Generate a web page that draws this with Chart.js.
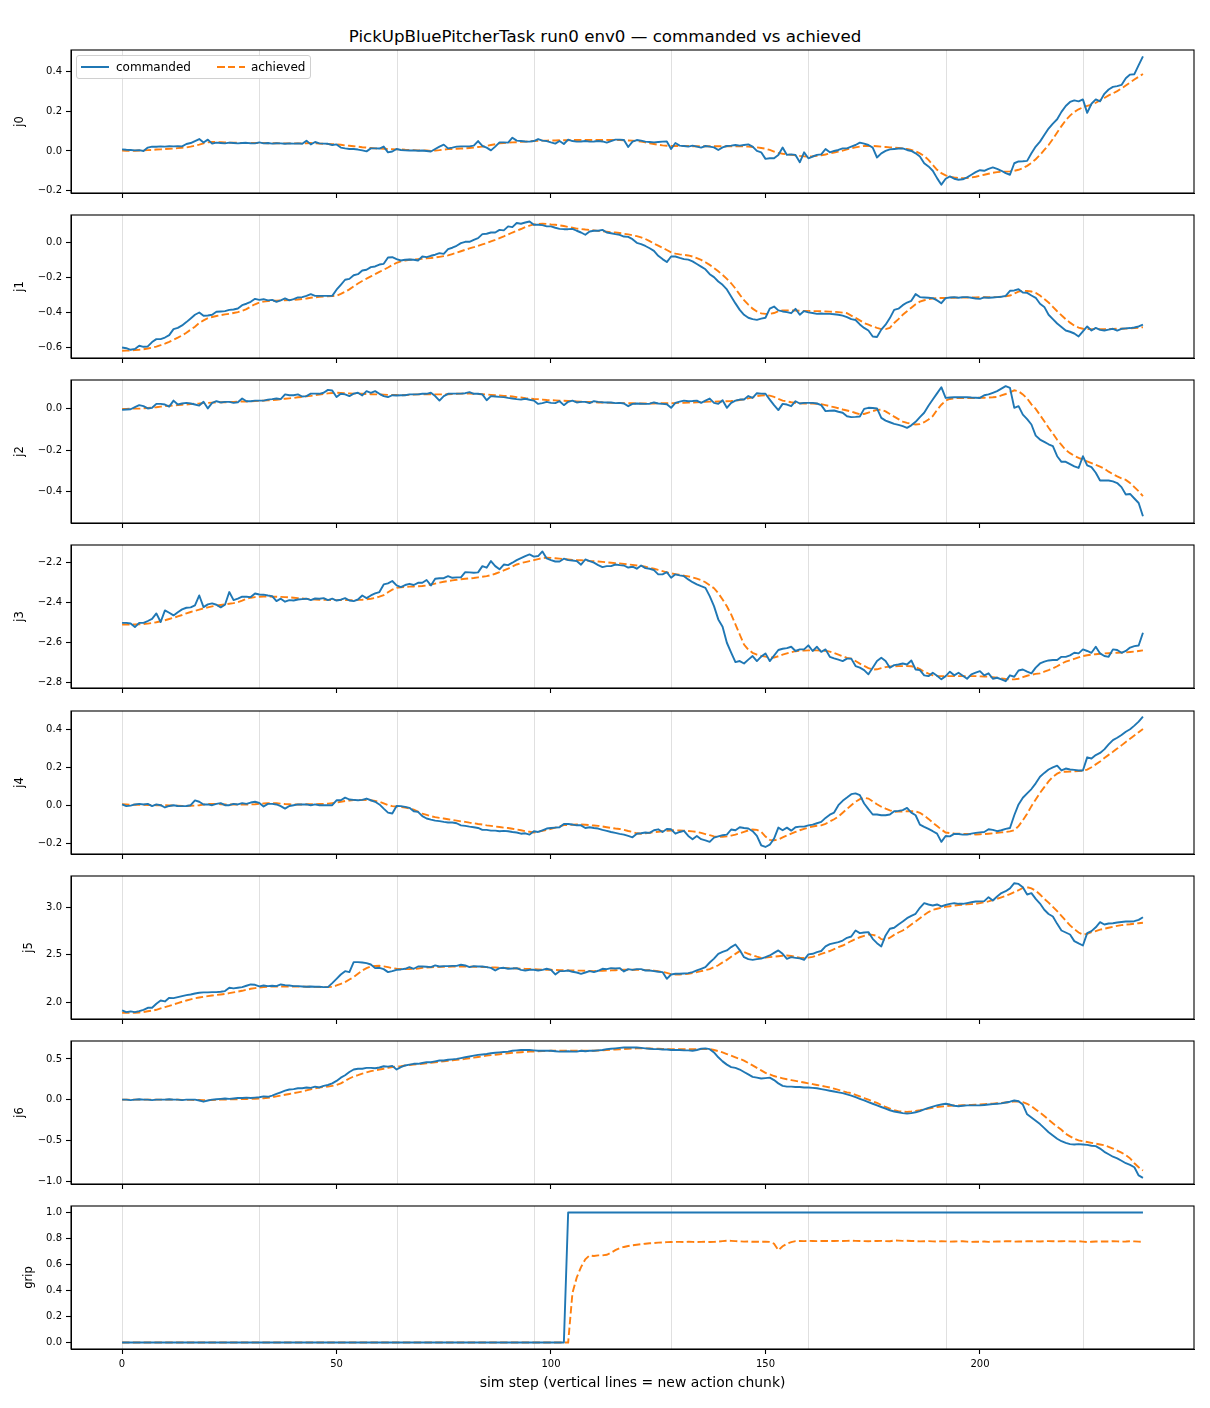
<!DOCTYPE html>
<html>
<head>
<meta charset="utf-8">
<script src="https://cdn.jsdelivr.net/npm/chart.js@4/dist/chart.umd.min.js"></script>
<style>
  html, body { margin:0; padding:0; background:#fff; }
  body { position:relative; width:1210px; height:1408px; overflow:hidden; font-family:'DejaVu Sans', sans-serif; }
  #title { position:absolute; left:0; top:27px; width:1210px; text-align:center; font-size:16.67px; line-height:20px; color:#000; }
  #legend { position:absolute; left:76px; top:55px; width:233px; height:22px; border:1px solid #d0d0d0; border-radius:3px; background:rgba(255,255,255,0.85); z-index:5; }
  .lg-line { position:absolute; top:10px; width:28px; height:2px; }
  .lg-text { position:absolute; top:4px; font-size:12px; line-height:15px; color:#000; white-space:nowrap; }
  #warn { position:absolute; left:10px; top:5px; color:red; font-size:12px; z-index:9; }
</style>
</head>
<body>
<div id="title">PickUpBluePitcherTask run0 env0 — commanded vs achieved</div>
<div id="legend">
  <div class="lg-line" style="left:4px; background:#1f77b4;"></div>
  <div class="lg-text" style="left:39px;">commanded</div>
  <div class="lg-line" style="left:140px; background:repeating-linear-gradient(to right,#ff7f0e 0 7.5px,transparent 7.5px 10.8px);"></div>
  <div class="lg-text" style="left:174px;">achieved</div>
</div>
<div id="warn"></div>
<script>
// ---------------- data (sim steps 0..238) ----------------
const chunkStarts = [0, 32, 64, 96, 128, 160, 192, 224];
const xTicks = [0, 50, 100, 150, 200];
const xTickLabels = ['0', '50', '100', '150', '200'];

const j0Cmd = [
0.008,0.006,0.005,0.003,0.004,0.0,0.017,0.022,0.021,0.023,
0.022,0.024,0.023,0.024,0.023,0.035,0.04,0.05,0.06,0.043,
0.057,0.037,0.042,0.04,0.038,0.042,0.04,0.038,0.04,0.041,
0.039,0.038,0.043,0.038,0.04,0.037,0.039,0.038,0.036,0.038,
0.037,0.038,0.036,0.052,0.033,0.045,0.038,0.037,0.036,0.03,
0.033,0.017,0.013,0.01,0.01,0.007,0.003,-0.002,0.013,0.013,
0.012,0.022,-0.007,-0.003,0.01,0.005,0.003,0.002,0.003,0.001,
0.002,0.0,-0.003,0.01,0.022,0.032,0.013,0.017,0.022,0.023,
0.023,0.023,0.027,0.05,0.025,0.017,0.003,0.022,0.043,0.043,
0.042,0.067,0.052,0.05,0.048,0.047,0.05,0.06,0.052,0.05,
0.043,0.037,0.05,0.035,0.057,0.05,0.047,0.048,0.05,0.047,
0.048,0.05,0.048,0.042,0.05,0.057,0.057,0.055,0.02,0.047,
0.055,0.052,0.047,0.045,0.043,0.045,0.047,0.048,0.01,0.04,
0.027,0.025,0.022,0.027,0.022,0.017,0.025,0.022,0.018,0.005,
0.018,0.025,0.027,0.03,0.027,0.03,0.033,0.022,0.0,-0.007,
-0.04,-0.037,-0.037,-0.02,0.017,-0.02,-0.017,-0.02,-0.057,-0.007,
-0.037,-0.028,-0.02,-0.017,0.01,-0.007,0.0,0.005,0.013,0.013,
0.022,0.03,0.042,0.037,0.03,0.017,-0.033,-0.012,0.0,0.008,
0.01,0.012,0.013,0.005,0.0,-0.012,-0.028,-0.062,-0.078,-0.1,
-0.137,-0.17,-0.14,-0.128,-0.14,-0.145,-0.143,-0.133,-0.12,-0.107,
-0.097,-0.1,-0.09,-0.083,-0.09,-0.1,-0.112,-0.12,-0.062,-0.053,
-0.052,-0.05,-0.012,0.022,0.047,0.08,0.113,0.138,0.16,0.197,
0.227,0.247,0.255,0.25,0.26,0.192,0.238,0.26,0.25,0.288,
0.31,0.323,0.327,0.333,0.367,0.385,0.387,0.433,0.477];
const j0Ach = [
0.002,0.001,0.0,0.001,0.002,0.003,0.004,0.005,0.007,0.008,
0.01,0.011,0.012,0.014,0.016,0.018,0.022,0.027,0.032,0.038,
0.043,0.045,0.045,0.044,0.043,0.042,0.041,0.041,0.04,0.04,
0.04,0.04,0.04,0.04,0.039,0.039,0.039,0.038,0.038,0.038,
0.038,0.038,0.038,0.039,0.04,0.039,0.037,0.036,0.035,0.034,
0.033,0.031,0.028,0.026,0.024,0.022,0.019,0.017,0.015,0.013,
0.012,0.011,0.01,0.009,0.008,0.008,0.006,0.005,0.004,0.003,
0.003,0.002,0.0,0.002,0.004,0.007,0.009,0.01,0.011,0.012,
0.013,0.015,0.017,0.02,0.022,0.026,0.03,0.034,0.038,0.04,
0.042,0.043,0.044,0.046,0.047,0.048,0.05,0.051,0.052,0.052,
0.053,0.053,0.054,0.054,0.054,0.055,0.055,0.055,0.055,0.055,
0.055,0.055,0.055,0.055,0.055,0.055,0.055,0.054,0.053,0.052,
0.05,0.047,0.043,0.039,0.035,0.031,0.028,0.026,0.025,0.025,
0.025,0.025,0.025,0.024,0.024,0.024,0.024,0.024,0.024,0.024,
0.024,0.024,0.024,0.024,0.024,0.023,0.022,0.02,0.018,0.015,
0.012,0.005,-0.003,-0.01,-0.014,-0.017,-0.02,-0.022,-0.025,-0.027,
-0.028,-0.027,-0.025,-0.022,-0.018,-0.013,-0.008,-0.003,0.002,0.008,
0.013,0.018,0.022,0.025,0.025,0.025,0.024,0.022,0.02,0.018,
0.017,0.015,0.013,0.01,0.005,-0.002,-0.012,-0.025,-0.045,-0.07,
-0.095,-0.112,-0.123,-0.13,-0.134,-0.136,-0.137,-0.137,-0.134,-0.13,
-0.125,-0.12,-0.115,-0.11,-0.107,-0.105,-0.104,-0.103,-0.1,-0.095,
-0.087,-0.075,-0.06,-0.042,-0.02,0.005,0.03,0.06,0.093,0.125,
0.155,0.178,0.197,0.21,0.22,0.227,0.233,0.243,0.255,0.267,
0.28,0.29,0.302,0.315,0.33,0.345,0.36,0.374,0.388];

const j1Cmd = [
-0.602,-0.606,-0.615,-0.61,-0.592,-0.598,-0.596,-0.571,-0.554,-0.554,
-0.545,-0.531,-0.497,-0.49,-0.476,-0.457,-0.436,-0.415,-0.402,-0.421,
-0.419,-0.415,-0.398,-0.396,-0.394,-0.387,-0.385,-0.379,-0.36,-0.352,
-0.341,-0.324,-0.33,-0.326,-0.333,-0.33,-0.341,-0.333,-0.322,-0.333,
-0.326,-0.316,-0.314,-0.307,-0.297,-0.307,-0.307,-0.307,-0.307,-0.307,
-0.272,-0.244,-0.215,-0.21,-0.189,-0.183,-0.162,-0.158,-0.143,-0.139,
-0.128,-0.124,-0.088,-0.086,-0.097,-0.105,-0.101,-0.099,-0.101,-0.105,
-0.082,-0.086,-0.078,-0.072,-0.063,-0.067,-0.04,-0.032,-0.021,-0.006,
0.002,0.002,0.013,0.023,0.046,0.048,0.055,0.055,0.07,0.067,
0.09,0.086,0.109,0.105,0.112,0.118,0.099,0.099,0.097,0.09,
0.09,0.082,0.076,0.074,0.074,0.076,0.065,0.055,0.042,0.061,
0.065,0.065,0.07,0.055,0.051,0.046,0.042,0.032,0.03,0.017,
-0.004,-0.011,-0.022,-0.035,-0.05,-0.078,-0.097,-0.114,-0.082,-0.082,
-0.09,-0.097,-0.1,-0.11,-0.125,-0.14,-0.155,-0.183,-0.2,-0.225,
-0.244,-0.27,-0.31,-0.35,-0.387,-0.415,-0.432,-0.44,-0.444,-0.437,
-0.432,-0.38,-0.368,-0.39,-0.396,-0.4,-0.406,-0.381,-0.415,-0.394,
-0.401,-0.405,-0.41,-0.408,-0.41,-0.41,-0.412,-0.415,-0.42,-0.428,
-0.44,-0.445,-0.47,-0.49,-0.505,-0.539,-0.542,-0.5,-0.472,-0.434,
-0.387,-0.38,-0.36,-0.345,-0.335,-0.297,-0.314,-0.316,-0.318,-0.32,
-0.333,-0.349,-0.32,-0.316,-0.314,-0.318,-0.314,-0.314,-0.318,-0.322,
-0.324,-0.316,-0.318,-0.316,-0.314,-0.312,-0.307,-0.278,-0.276,-0.269,
-0.288,-0.29,-0.305,-0.318,-0.352,-0.37,-0.415,-0.44,-0.465,-0.485,
-0.505,-0.512,-0.522,-0.539,-0.51,-0.482,-0.505,-0.49,-0.501,-0.505,
-0.5,-0.495,-0.505,-0.495,-0.493,-0.491,-0.488,-0.482,-0.472];
const j1Ach = [
-0.621,-0.62,-0.619,-0.617,-0.615,-0.612,-0.608,-0.603,-0.597,-0.589,
-0.58,-0.57,-0.558,-0.546,-0.533,-0.518,-0.5,-0.483,-0.462,-0.447,
-0.434,-0.428,-0.422,-0.417,-0.413,-0.41,-0.405,-0.4,-0.392,-0.383,
-0.368,-0.355,-0.345,-0.34,-0.337,-0.335,-0.334,-0.333,-0.332,-0.331,
-0.33,-0.328,-0.325,-0.322,-0.318,-0.315,-0.313,-0.311,-0.309,-0.308,
-0.307,-0.296,-0.284,-0.27,-0.253,-0.236,-0.222,-0.209,-0.196,-0.183,
-0.17,-0.158,-0.145,-0.131,-0.118,-0.11,-0.105,-0.101,-0.099,-0.097,
-0.095,-0.093,-0.091,-0.088,-0.084,-0.08,-0.076,-0.068,-0.06,-0.052,
-0.044,-0.036,-0.029,-0.021,-0.013,-0.006,0.004,0.013,0.023,0.033,
0.044,0.055,0.065,0.075,0.086,0.094,0.101,0.104,0.105,0.104,
0.101,0.099,0.096,0.092,0.087,0.082,0.077,0.075,0.072,0.07,
0.067,0.064,0.062,0.06,0.057,0.055,0.052,0.048,0.044,0.039,
0.034,0.027,0.018,0.006,-0.008,-0.02,-0.033,-0.045,-0.058,-0.066,
-0.07,-0.073,-0.076,-0.082,-0.092,-0.102,-0.115,-0.13,-0.148,-0.167,
-0.187,-0.21,-0.235,-0.265,-0.3,-0.332,-0.357,-0.38,-0.396,-0.407,
-0.41,-0.41,-0.405,-0.395,-0.39,-0.39,-0.39,-0.391,-0.392,-0.393,
-0.393,-0.394,-0.394,-0.395,-0.396,-0.397,-0.398,-0.4,-0.403,-0.406,
-0.42,-0.432,-0.447,-0.462,-0.472,-0.482,-0.49,-0.497,-0.497,-0.49,
-0.462,-0.44,-0.415,-0.395,-0.375,-0.355,-0.34,-0.332,-0.326,-0.322,
-0.32,-0.319,-0.319,-0.318,-0.318,-0.317,-0.317,-0.316,-0.316,-0.316,
-0.315,-0.315,-0.315,-0.314,-0.314,-0.312,-0.309,-0.305,-0.294,-0.283,
-0.278,-0.279,-0.282,-0.29,-0.305,-0.325,-0.345,-0.37,-0.395,-0.418,
-0.44,-0.46,-0.477,-0.488,-0.495,-0.497,-0.497,-0.497,-0.497,-0.497,
-0.496,-0.496,-0.495,-0.495,-0.494,-0.493,-0.491,-0.489,-0.486];

const j2Cmd = [
-0.005,-0.003,-0.002,0.008,0.018,0.013,0.002,0.005,0.024,0.024,
0.021,0.011,0.04,0.021,0.026,0.029,0.026,0.021,0.016,0.034,
0.002,0.029,0.037,0.031,0.034,0.034,0.029,0.032,0.05,0.037,
0.037,0.04,0.04,0.04,0.045,0.047,0.05,0.047,0.07,0.066,
0.066,0.07,0.06,0.062,0.074,0.074,0.073,0.078,0.092,0.089,
0.057,0.073,0.07,0.062,0.074,0.078,0.065,0.086,0.078,0.086,
0.073,0.062,0.057,0.066,0.065,0.066,0.066,0.07,0.07,0.07,
0.073,0.073,0.078,0.062,0.04,0.062,0.073,0.074,0.074,0.074,
0.076,0.081,0.073,0.073,0.07,0.042,0.062,0.06,0.058,0.057,
0.053,0.05,0.047,0.045,0.049,0.044,0.04,0.024,0.028,0.034,
0.029,0.028,0.037,0.018,0.034,0.04,0.031,0.034,0.034,0.028,
0.037,0.034,0.032,0.031,0.031,0.028,0.029,0.026,0.013,0.024,
0.026,0.025,0.024,0.025,0.031,0.026,0.024,0.022,0.005,0.029,
0.035,0.04,0.037,0.038,0.04,0.029,0.04,0.05,0.029,0.024,
0.042,0.005,0.029,0.04,0.045,0.045,0.062,0.053,0.076,0.074,
0.073,0.045,0.018,-0.006,0.024,0.021,0.013,0.037,0.026,0.029,
0.029,0.029,0.026,0.018,-0.011,-0.009,-0.008,-0.014,-0.019,-0.036,
-0.04,-0.039,-0.037,0.0,0.005,0.004,0.002,-0.044,-0.057,-0.065,
-0.073,-0.078,-0.084,-0.092,-0.08,-0.063,-0.04,-0.019,0.015,0.045,
0.075,0.105,0.053,0.055,0.056,0.056,0.056,0.057,0.055,0.054,
0.053,0.066,0.07,0.078,0.086,0.098,0.11,0.102,0.005,0.013,
-0.028,-0.05,-0.076,-0.13,-0.149,-0.16,-0.172,-0.181,-0.23,-0.257,
-0.257,-0.268,-0.279,-0.287,-0.23,-0.274,-0.283,-0.31,-0.348,-0.348,
-0.348,-0.352,-0.36,-0.38,-0.416,-0.413,-0.435,-0.457,-0.521];
const j2Ach = [
0.0,0.0,0.001,0.001,0.001,0.002,0.004,0.006,0.008,0.011,
0.013,0.015,0.016,0.018,0.02,0.021,0.023,0.025,0.026,0.028,
0.029,0.03,0.031,0.032,0.032,0.033,0.034,0.035,0.036,0.036,
0.037,0.038,0.039,0.04,0.041,0.042,0.044,0.047,0.049,0.051,
0.053,0.056,0.058,0.061,0.063,0.066,0.069,0.072,0.075,0.077,
0.078,0.077,0.076,0.075,0.074,0.074,0.073,0.072,0.071,0.07,
0.07,0.069,0.068,0.067,0.067,0.066,0.067,0.068,0.069,0.07,
0.07,0.07,0.07,0.07,0.07,0.07,0.071,0.072,0.073,0.074,
0.074,0.074,0.073,0.072,0.071,0.07,0.068,0.066,0.065,0.063,
0.062,0.06,0.057,0.055,0.052,0.05,0.048,0.047,0.045,0.043,
0.042,0.041,0.04,0.039,0.038,0.037,0.036,0.035,0.034,0.033,
0.032,0.031,0.031,0.03,0.029,0.029,0.028,0.028,0.027,0.027,
0.026,0.026,0.026,0.026,0.026,0.027,0.027,0.027,0.028,0.028,
0.029,0.029,0.03,0.031,0.032,0.033,0.034,0.035,0.035,0.036,
0.036,0.037,0.038,0.04,0.043,0.046,0.051,0.056,0.062,0.065,
0.066,0.064,0.058,0.048,0.04,0.036,0.032,0.029,0.027,0.026,
0.026,0.026,0.025,0.023,0.018,0.013,0.008,0.003,-0.003,-0.008,
-0.013,-0.02,-0.026,-0.025,-0.018,-0.011,-0.005,-0.004,-0.012,-0.025,
-0.038,-0.05,-0.062,-0.068,-0.073,-0.076,-0.074,-0.065,-0.052,-0.035,
-0.005,0.02,0.04,0.048,0.051,0.053,0.053,0.053,0.053,0.053,
0.054,0.054,0.055,0.056,0.058,0.065,0.072,0.08,0.09,0.085,
0.07,0.05,0.022,0.0,-0.03,-0.06,-0.092,-0.12,-0.15,-0.175,
-0.2,-0.215,-0.228,-0.238,-0.246,-0.255,-0.263,-0.272,-0.28,-0.29,
-0.305,-0.317,-0.328,-0.337,-0.345,-0.36,-0.38,-0.4,-0.424];

const j3Cmd = [
-2.502,-2.502,-2.505,-2.523,-2.502,-2.502,-2.493,-2.482,-2.455,-2.498,
-2.44,-2.452,-2.465,-2.449,-2.435,-2.427,-2.425,-2.415,-2.366,-2.424,
-2.41,-2.405,-2.412,-2.425,-2.412,-2.349,-2.389,-2.382,-2.372,-2.372,
-2.374,-2.356,-2.361,-2.362,-2.366,-2.369,-2.394,-2.382,-2.397,-2.389,
-2.391,-2.386,-2.384,-2.382,-2.389,-2.381,-2.382,-2.379,-2.389,-2.382,
-2.391,-2.387,-2.379,-2.391,-2.394,-2.386,-2.366,-2.379,-2.366,-2.356,
-2.349,-2.311,-2.306,-2.294,-2.316,-2.324,-2.314,-2.308,-2.314,-2.303,
-2.303,-2.289,-2.316,-2.283,-2.28,-2.28,-2.27,-2.278,-2.276,-2.276,
-2.25,-2.251,-2.253,-2.251,-2.22,-2.228,-2.195,-2.22,-2.236,-2.212,
-2.215,-2.203,-2.19,-2.18,-2.17,-2.162,-2.173,-2.17,-2.147,-2.182,
-2.19,-2.197,-2.197,-2.183,-2.19,-2.192,-2.195,-2.213,-2.187,-2.195,
-2.203,-2.215,-2.225,-2.22,-2.22,-2.212,-2.215,-2.217,-2.227,-2.223,
-2.233,-2.217,-2.23,-2.233,-2.24,-2.261,-2.261,-2.25,-2.278,-2.261,
-2.266,-2.27,-2.286,-2.3,-2.311,-2.32,-2.328,-2.369,-2.419,-2.485,
-2.521,-2.601,-2.65,-2.697,-2.692,-2.704,-2.685,-2.667,-2.692,-2.67,
-2.654,-2.692,-2.665,-2.637,-2.631,-2.628,-2.621,-2.642,-2.634,-2.634,
-2.614,-2.642,-2.621,-2.646,-2.634,-2.671,-2.679,-2.685,-2.692,-2.68,
-2.68,-2.717,-2.725,-2.737,-2.758,-2.725,-2.692,-2.676,-2.692,-2.725,
-2.712,-2.709,-2.704,-2.709,-2.689,-2.734,-2.737,-2.763,-2.767,-2.75,
-2.765,-2.783,-2.767,-2.745,-2.763,-2.75,-2.765,-2.78,-2.758,-2.75,
-2.742,-2.763,-2.753,-2.78,-2.775,-2.783,-2.792,-2.763,-2.77,-2.739,
-2.734,-2.745,-2.753,-2.725,-2.704,-2.695,-2.689,-2.687,-2.687,-2.671,
-2.671,-2.664,-2.651,-2.654,-2.634,-2.642,-2.651,-2.621,-2.654,-2.667,
-2.671,-2.634,-2.637,-2.651,-2.642,-2.625,-2.618,-2.615,-2.551];
const j3Ach = [
-2.51,-2.51,-2.51,-2.51,-2.509,-2.508,-2.506,-2.503,-2.499,-2.494,
-2.489,-2.483,-2.477,-2.47,-2.463,-2.455,-2.448,-2.442,-2.436,-2.43,
-2.425,-2.42,-2.416,-2.413,-2.41,-2.407,-2.404,-2.399,-2.392,-2.383,
-2.377,-2.374,-2.372,-2.371,-2.371,-2.372,-2.372,-2.373,-2.374,-2.375,
-2.377,-2.379,-2.381,-2.383,-2.385,-2.386,-2.387,-2.388,-2.388,-2.389,
-2.389,-2.389,-2.389,-2.389,-2.389,-2.388,-2.387,-2.385,-2.382,-2.378,
-2.372,-2.364,-2.35,-2.337,-2.328,-2.325,-2.323,-2.322,-2.321,-2.32,
-2.319,-2.316,-2.312,-2.307,-2.302,-2.298,-2.294,-2.291,-2.288,-2.285,
-2.283,-2.281,-2.279,-2.276,-2.273,-2.27,-2.265,-2.258,-2.25,-2.241,
-2.233,-2.222,-2.212,-2.205,-2.2,-2.195,-2.19,-2.185,-2.18,-2.178,
-2.179,-2.181,-2.183,-2.185,-2.187,-2.189,-2.19,-2.191,-2.192,-2.194,
-2.195,-2.197,-2.199,-2.201,-2.203,-2.205,-2.207,-2.209,-2.212,-2.214,
-2.217,-2.219,-2.223,-2.228,-2.233,-2.239,-2.245,-2.251,-2.256,-2.26,
-2.263,-2.267,-2.271,-2.276,-2.282,-2.29,-2.3,-2.315,-2.33,-2.355,
-2.386,-2.42,-2.46,-2.51,-2.56,-2.61,-2.635,-2.651,-2.66,-2.666,
-2.67,-2.674,-2.675,-2.668,-2.66,-2.654,-2.648,-2.643,-2.641,-2.64,
-2.639,-2.639,-2.639,-2.64,-2.641,-2.645,-2.652,-2.66,-2.668,-2.676,
-2.68,-2.692,-2.705,-2.716,-2.727,-2.734,-2.733,-2.727,-2.722,-2.719,
-2.718,-2.717,-2.717,-2.717,-2.718,-2.722,-2.732,-2.745,-2.755,-2.763,
-2.767,-2.767,-2.767,-2.767,-2.767,-2.767,-2.767,-2.767,-2.767,-2.767,
-2.768,-2.769,-2.77,-2.772,-2.775,-2.778,-2.781,-2.783,-2.783,-2.78,
-2.772,-2.765,-2.76,-2.756,-2.753,-2.745,-2.737,-2.728,-2.718,-2.705,
-2.695,-2.688,-2.681,-2.674,-2.667,-2.663,-2.66,-2.658,-2.656,-2.654,
-2.653,-2.652,-2.651,-2.65,-2.649,-2.647,-2.645,-2.642,-2.639];

const j4Cmd = [
0.004,-0.005,-0.002,0.004,0.007,0.004,0.007,-0.005,0.004,0.0,
-0.012,-0.004,0.0,-0.004,-0.005,-0.004,0.0,0.025,0.018,0.004,
0.004,0.0,0.007,0.011,0.0,0.0,0.007,0.004,0.011,0.007,
0.014,0.018,0.012,-0.007,0.007,0.007,0.004,-0.005,-0.018,-0.004,
0.0,0.004,0.004,0.004,0.0,0.004,0.0,0.0,0.0,0.0,
0.026,0.026,0.04,0.03,0.028,0.026,0.028,0.035,0.026,0.018,
0.004,-0.018,-0.039,-0.044,-0.004,-0.005,-0.009,-0.014,-0.032,-0.035,
-0.058,-0.07,-0.076,-0.081,-0.084,-0.088,-0.091,-0.091,-0.095,-0.106,
-0.109,-0.113,-0.116,-0.12,-0.13,-0.13,-0.134,-0.134,-0.137,-0.135,
-0.137,-0.141,-0.144,-0.15,-0.148,-0.155,-0.137,-0.141,-0.132,-0.123,
-0.12,-0.118,-0.116,-0.099,-0.099,-0.102,-0.106,-0.106,-0.12,-0.116,
-0.12,-0.123,-0.13,-0.135,-0.141,-0.146,-0.151,-0.155,-0.162,-0.169,
-0.15,-0.148,-0.144,-0.146,-0.132,-0.127,-0.141,-0.125,-0.127,-0.15,
-0.141,-0.135,-0.162,-0.179,-0.162,-0.179,-0.185,-0.193,-0.171,-0.164,
-0.158,-0.155,-0.128,-0.132,-0.116,-0.12,-0.123,-0.137,-0.162,-0.211,
-0.22,-0.208,-0.176,-0.118,-0.132,-0.118,-0.134,-0.116,-0.113,-0.113,
-0.106,-0.102,-0.095,-0.088,-0.067,-0.05,-0.039,0.0,0.023,0.04,
0.058,0.062,0.053,0.009,-0.021,-0.049,-0.049,-0.053,-0.053,-0.049,
-0.032,-0.03,-0.026,-0.014,-0.039,-0.053,-0.102,-0.114,-0.125,-0.137,
-0.15,-0.193,-0.162,-0.164,-0.151,-0.152,-0.155,-0.155,-0.15,-0.146,
-0.143,-0.141,-0.127,-0.13,-0.137,-0.132,-0.125,-0.12,-0.053,0.004,
0.039,0.062,0.085,0.115,0.15,0.17,0.188,0.199,0.208,0.183,
0.193,0.188,0.186,0.183,0.183,0.252,0.246,0.264,0.275,0.294,
0.32,0.343,0.355,0.37,0.387,0.4,0.419,0.44,0.466];
const j4Ach = [
0.005,0.004,0.003,0.002,0.002,0.002,0.001,0.001,0.0,0.0,
0.0,-0.001,-0.002,-0.003,-0.004,-0.004,-0.003,-0.002,0.0,0.003,
0.006,0.007,0.006,0.005,0.004,0.004,0.004,0.004,0.004,0.004,
0.004,0.005,0.007,0.009,0.01,0.011,0.01,0.008,0.006,0.005,
0.004,0.004,0.004,0.005,0.005,0.005,0.006,0.007,0.008,0.011,
0.014,0.018,0.022,0.025,0.027,0.028,0.028,0.027,0.026,0.022,
0.018,0.01,0.0,-0.005,-0.007,-0.009,-0.012,-0.017,-0.024,-0.034,
-0.044,-0.051,-0.058,-0.063,-0.067,-0.07,-0.074,-0.078,-0.081,-0.085,
-0.088,-0.092,-0.095,-0.099,-0.102,-0.106,-0.109,-0.112,-0.115,-0.118,
-0.12,-0.124,-0.128,-0.132,-0.137,-0.14,-0.144,-0.14,-0.135,-0.13,
-0.125,-0.118,-0.111,-0.105,-0.104,-0.103,-0.102,-0.102,-0.103,-0.105,
-0.107,-0.109,-0.112,-0.116,-0.12,-0.123,-0.125,-0.13,-0.136,-0.141,
-0.148,-0.15,-0.148,-0.145,-0.142,-0.14,-0.137,-0.135,-0.133,-0.132,
-0.133,-0.134,-0.136,-0.138,-0.141,-0.146,-0.152,-0.158,-0.164,-0.167,
-0.166,-0.164,-0.16,-0.155,-0.148,-0.14,-0.133,-0.128,-0.13,-0.14,
-0.165,-0.183,-0.185,-0.18,-0.17,-0.16,-0.15,-0.141,-0.132,-0.125,
-0.118,-0.112,-0.108,-0.106,-0.098,-0.086,-0.074,-0.06,-0.04,-0.02,
0.0,0.018,0.032,0.039,0.035,0.02,0.005,-0.008,-0.018,-0.027,
-0.035,-0.034,-0.033,-0.032,-0.032,-0.032,-0.04,-0.055,-0.072,-0.092,
-0.11,-0.128,-0.144,-0.147,-0.149,-0.15,-0.151,-0.152,-0.153,-0.154,
-0.153,-0.152,-0.15,-0.148,-0.146,-0.143,-0.141,-0.138,-0.132,-0.11,
-0.079,-0.045,-0.005,0.03,0.065,0.095,0.125,0.15,0.166,0.176,
0.176,0.177,0.178,0.18,0.182,0.187,0.2,0.215,0.23,0.248,
0.265,0.281,0.298,0.315,0.333,0.35,0.367,0.384,0.401];

const j5Cmd = [
1.914,1.896,1.904,1.896,1.907,1.921,1.942,1.942,1.984,2.019,
2.009,2.047,2.044,2.054,2.065,2.075,2.082,2.093,2.1,2.104,
2.104,2.107,2.107,2.111,2.118,2.153,2.146,2.153,2.16,2.174,
2.188,2.184,2.167,2.177,2.17,2.174,2.17,2.188,2.181,2.177,
2.17,2.17,2.167,2.163,2.167,2.163,2.163,2.16,2.16,2.202,
2.247,2.293,2.328,2.318,2.423,2.423,2.419,2.412,2.398,2.36,
2.363,2.349,2.318,2.328,2.342,2.346,2.353,2.37,2.353,2.377,
2.377,2.374,2.37,2.388,2.377,2.381,2.381,2.384,2.384,2.395,
2.388,2.37,2.381,2.377,2.377,2.37,2.363,2.335,2.36,2.363,
2.353,2.356,2.36,2.342,2.335,2.342,2.342,2.335,2.342,2.353,
2.342,2.293,2.328,2.328,2.335,2.321,2.314,2.3,2.314,2.328,
2.318,2.332,2.353,2.349,2.36,2.356,2.36,2.325,2.349,2.342,
2.349,2.349,2.335,2.335,2.328,2.321,2.318,2.247,2.293,2.3,
2.3,2.303,2.307,2.318,2.335,2.353,2.37,2.419,2.46,2.511,
2.53,2.546,2.581,2.609,2.55,2.475,2.455,2.447,2.455,2.46,
2.475,2.493,2.52,2.546,2.51,2.458,2.475,2.468,2.462,2.447,
2.504,2.511,2.528,2.54,2.588,2.612,2.623,2.633,2.65,2.679,
2.693,2.756,2.728,2.735,2.739,2.668,2.623,2.588,2.704,2.774,
2.785,2.82,2.85,2.886,2.91,2.932,2.995,3.044,3.03,3.019,
3.03,3.009,3.025,3.037,3.044,3.037,3.037,3.045,3.054,3.061,
3.063,3.065,3.107,3.072,3.114,3.15,3.17,3.2,3.254,3.247,
3.212,3.135,3.149,3.089,3.04,2.974,2.93,2.904,2.826,2.756,
2.735,2.714,2.644,2.62,2.598,2.728,2.749,2.79,2.844,2.819,
2.83,2.833,2.84,2.845,2.851,2.851,2.854,2.868,2.896];
const j5Ach = [
1.89,1.89,1.89,1.89,1.893,1.897,1.905,1.912,1.921,1.935,
1.949,1.962,1.977,1.992,2.006,2.019,2.031,2.042,2.05,2.058,
2.065,2.071,2.077,2.082,2.088,2.096,2.104,2.112,2.121,2.132,
2.142,2.149,2.155,2.16,2.163,2.166,2.167,2.167,2.167,2.166,
2.166,2.165,2.165,2.164,2.163,2.162,2.161,2.16,2.16,2.162,
2.177,2.195,2.212,2.24,2.265,2.3,2.335,2.36,2.377,2.382,
2.384,2.378,2.37,2.36,2.353,2.35,2.349,2.35,2.352,2.355,
2.363,2.366,2.369,2.371,2.373,2.374,2.375,2.376,2.377,2.377,
2.377,2.376,2.375,2.373,2.372,2.37,2.368,2.366,2.364,2.362,
2.36,2.358,2.356,2.354,2.352,2.35,2.348,2.346,2.344,2.343,
2.342,2.34,2.339,2.337,2.336,2.335,2.334,2.333,2.332,2.331,
2.328,2.33,2.332,2.334,2.336,2.338,2.34,2.342,2.343,2.343,
2.342,2.341,2.339,2.337,2.334,2.328,2.32,2.31,2.297,2.293,
2.293,2.295,2.3,2.308,2.318,2.328,2.338,2.35,2.37,2.39,
2.42,2.447,2.48,2.51,2.539,2.53,2.511,2.495,2.48,2.468,
2.47,2.476,2.48,2.485,2.49,2.493,2.488,2.478,2.47,2.466,
2.47,2.478,2.493,2.51,2.525,2.54,2.56,2.58,2.598,2.62,
2.645,2.668,2.685,2.7,2.714,2.71,2.7,2.665,2.66,2.68,
2.71,2.735,2.756,2.785,2.82,2.85,2.885,2.92,2.95,2.974,
2.985,2.995,3.005,3.012,3.018,3.024,3.028,3.031,3.034,3.037,
3.045,3.053,3.062,3.075,3.09,3.105,3.12,3.14,3.16,3.18,
3.205,3.212,3.2,3.175,3.135,3.09,3.05,3.005,2.96,2.91,
2.86,2.81,2.77,2.735,2.714,2.72,2.739,2.75,2.765,2.775,
2.785,2.795,2.805,2.812,2.818,2.822,2.828,2.832,2.837];

const j6Cmd = [
0.0,0.0,-0.005,0.0,0.005,0.0,0.0,-0.005,0.0,0.0,
0.0,0.005,0.0,0.0,-0.005,0.0,0.0,0.0,-0.01,-0.025,
-0.01,0.0,0.005,0.01,0.015,0.01,0.015,0.02,0.02,0.025,
0.02,0.025,0.03,0.04,0.035,0.05,0.07,0.09,0.11,0.125,
0.13,0.14,0.14,0.15,0.145,0.16,0.15,0.17,0.18,0.2,
0.23,0.27,0.3,0.34,0.37,0.38,0.38,0.39,0.39,0.385,
0.395,0.41,0.405,0.415,0.37,0.4,0.42,0.43,0.44,0.44,
0.45,0.46,0.46,0.47,0.48,0.48,0.49,0.495,0.5,0.51,
0.52,0.53,0.54,0.55,0.555,0.56,0.57,0.575,0.58,0.585,
0.59,0.6,0.605,0.61,0.61,0.61,0.605,0.6,0.6,0.6,
0.6,0.595,0.59,0.59,0.595,0.59,0.59,0.6,0.595,0.6,
0.6,0.605,0.61,0.62,0.625,0.63,0.635,0.64,0.64,0.64,
0.64,0.635,0.63,0.625,0.62,0.62,0.615,0.615,0.61,0.61,
0.61,0.605,0.605,0.6,0.61,0.625,0.63,0.62,0.58,0.52,
0.47,0.43,0.4,0.39,0.37,0.34,0.31,0.28,0.27,0.26,
0.265,0.27,0.24,0.2,0.17,0.16,0.16,0.155,0.155,0.15,
0.15,0.145,0.14,0.13,0.12,0.11,0.1,0.09,0.08,0.065,
0.05,0.03,0.01,-0.01,-0.03,-0.05,-0.07,-0.09,-0.11,-0.13,
-0.145,-0.155,-0.165,-0.17,-0.165,-0.155,-0.14,-0.12,-0.1,-0.085,
-0.07,-0.06,-0.05,-0.06,-0.075,-0.08,-0.075,-0.07,-0.07,-0.07,
-0.07,-0.065,-0.06,-0.055,-0.05,-0.045,-0.035,-0.025,-0.01,-0.02,
-0.06,-0.18,-0.22,-0.26,-0.3,-0.35,-0.4,-0.44,-0.48,-0.51,
-0.53,-0.545,-0.55,-0.545,-0.55,-0.555,-0.565,-0.57,-0.6,-0.64,
-0.67,-0.7,-0.72,-0.75,-0.78,-0.8,-0.83,-0.93,-0.96];
const j6Ach = [
0.0,0.0,0.0,0.0,0.0,0.0,0.0,0.0,0.0,0.0,
0.0,0.0,0.0,0.0,-0.002,-0.003,-0.003,-0.004,-0.005,-0.006,
-0.006,-0.004,-0.002,0.0,0.002,0.004,0.005,0.006,0.008,0.009,
0.01,0.012,0.015,0.018,0.023,0.03,0.04,0.05,0.06,0.07,
0.08,0.09,0.1,0.115,0.128,0.14,0.148,0.155,0.16,0.17,
0.18,0.2,0.23,0.26,0.285,0.3,0.32,0.335,0.35,0.36,
0.37,0.38,0.39,0.4,0.405,0.41,0.42,0.425,0.43,0.435,
0.44,0.446,0.452,0.458,0.464,0.47,0.476,0.482,0.488,0.494,
0.5,0.508,0.516,0.524,0.532,0.54,0.546,0.552,0.558,0.564,
0.57,0.574,0.578,0.582,0.586,0.59,0.592,0.594,0.596,0.598,
0.6,0.6,0.6,0.6,0.6,0.6,0.6,0.6,0.6,0.6,
0.6,0.603,0.606,0.609,0.612,0.615,0.618,0.621,0.624,0.627,
0.63,0.63,0.63,0.628,0.626,0.624,0.622,0.62,0.62,0.62,
0.62,0.62,0.62,0.62,0.62,0.62,0.62,0.62,0.61,0.595,
0.58,0.56,0.54,0.52,0.5,0.48,0.45,0.42,0.39,0.36,
0.33,0.31,0.29,0.275,0.262,0.25,0.24,0.23,0.22,0.21,
0.2,0.19,0.18,0.17,0.16,0.15,0.135,0.12,0.105,0.09,
0.08,0.06,0.04,0.02,0.0,-0.02,-0.04,-0.065,-0.09,-0.11,
-0.13,-0.14,-0.148,-0.15,-0.145,-0.138,-0.13,-0.12,-0.11,-0.1,
-0.09,-0.085,-0.08,-0.076,-0.072,-0.07,-0.068,-0.066,-0.064,-0.062,
-0.06,-0.056,-0.052,-0.048,-0.044,-0.04,-0.035,-0.03,-0.02,-0.022,
-0.03,-0.05,-0.08,-0.12,-0.16,-0.2,-0.245,-0.29,-0.33,-0.37,
-0.42,-0.45,-0.48,-0.5,-0.51,-0.52,-0.53,-0.54,-0.55,-0.56,
-0.58,-0.6,-0.625,-0.65,-0.68,-0.72,-0.78,-0.83,-0.87];

const gripCmd = [
0,0,0,0,0,0,0,0,0,0, 0,0,0,0,0,0,0,0,0,0,
0,0,0,0,0,0,0,0,0,0, 0,0,0,0,0,0,0,0,0,0,
0,0,0,0,0,0,0,0,0,0, 0,0,0,0,0,0,0,0,0,0,
0,0,0,0,0,0,0,0,0,0, 0,0,0,0,0,0,0,0,0,0,
0,0,0,0,0,0,0,0,0,0, 0,0,0,0,0,0,0,0,0,0,
0,0,0,0,1,1,1,1,1,1, 1,1,1,1,1,1,1,1,1,1,
1,1,1,1,1,1,1,1,1,1, 1,1,1,1,1,1,1,1,1,1,
1,1,1,1,1,1,1,1,1,1, 1,1,1,1,1,1,1,1,1,1,
1,1,1,1,1,1,1,1,1,1, 1,1,1,1,1,1,1,1,1,1,
1,1,1,1,1,1,1,1,1,1, 1,1,1,1,1,1,1,1,1,1,
1,1,1,1,1,1,1,1,1,1, 1,1,1,1,1,1,1,1,1,1,
1,1,1,1,1,1,1,1,1,1, 1,1,1,1,1,1,1,1,1];
const gripAch = [
0,0,0,0,0,0,0,0,0,0, 0,0,0,0,0,0,0,0,0,0,
0,0,0,0,0,0,0,0,0,0, 0,0,0,0,0,0,0,0,0,0,
0,0,0,0,0,0,0,0,0,0, 0,0,0,0,0,0,0,0,0,0,
0,0,0,0,0,0,0,0,0,0, 0,0,0,0,0,0,0,0,0,0,
0,0,0,0,0,0,0,0,0,0, 0,0,0,0,0,0,0,0,0,0,
0,0,0,0,0,0.38,0.5,0.58,0.64,0.67,
0.665,0.67,0.67,0.675,0.69,0.71,0.725,0.735,0.742,0.748,
0.752,0.756,0.76,0.763,0.765,0.768,0.77,0.772,0.773,0.774,
0.774,0.773,0.775,0.774,0.773,0.774,0.775,0.773,0.774,0.776,
0.78,0.783,0.782,0.78,0.778,0.776,0.777,0.775,0.776,0.775,
0.776,0.774,0.76,0.71,0.74,0.76,0.772,0.78,0.781,0.78,
0.782,0.781,0.78,0.781,0.782,0.78,0.781,0.782,0.781,0.782,
0.783,0.782,0.781,0.78,0.779,0.78,0.781,0.782,0.78,0.779,
0.785,0.784,0.782,0.783,0.781,0.78,0.778,0.779,0.78,0.778,
0.777,0.779,0.778,0.776,0.777,0.778,0.779,0.776,0.774,0.776,
0.775,0.777,0.774,0.776,0.778,0.777,0.779,0.78,0.776,0.778,
0.777,0.779,0.78,0.778,0.777,0.779,0.78,0.779,0.778,0.779,
0.78,0.778,0.777,0.779,0.776,0.773,0.775,0.777,0.776,0.778,
0.777,0.779,0.778,0.776,0.777,0.779,0.778,0.776,0.775];

// tick values for each panel's y axis
const j0Ticks = [-0.2, 0.0, 0.2, 0.4];
const j1Ticks = [-0.6, -0.4, -0.2, 0.0];
const j2Ticks = [-0.4, -0.2, 0.0];
const j3Ticks = [-2.8, -2.6, -2.4, -2.2];
const j4Ticks = [-0.2, 0.0, 0.2, 0.4];
const j5Ticks = [2.0, 2.5, 3.0];
const j6Ticks = [-1.0, -0.5, 0.0, 0.5];
const gripTicks = [0.0, 0.2, 0.4, 0.6, 0.8, 1.0];

// ---------------- layout ----------------
const PANEL_H = 143;
const panels = [
  {label:'j0',   cmd:j0Cmd,   ach:j0Ach,   ticks:j0Ticks,   min:-0.212, max:0.509, top:50,   pad:13},
  {label:'j1',   cmd:j1Cmd,   ach:j1Ach,   ticks:j1Ticks,   min:-0.662, max:0.155, top:215,  pad:13},
  {label:'j2',   cmd:j2Cmd,   ach:j2Ach,   ticks:j2Ticks,   min:-0.554, max:0.140, top:380,  pad:13},
  {label:'j3',   cmd:j3Cmd,   ach:j3Ach,   ticks:j3Ticks,   min:-2.826, max:-2.115, top:545, pad:13},
  {label:'j4',   cmd:j4Cmd,   ach:j4Ach,   ticks:j4Ticks,   min:-0.257, max:0.496, top:711,  pad:13},
  {label:'j5',   cmd:j5Cmd,   ach:j5Ach,   ticks:j5Ticks,   min:1.824,  max:3.33,  top:876,  pad:22},
  {label:'j6',   cmd:j6Cmd,   ach:j6Ach,   ticks:j6Ticks,   min:-1.035, max:0.72,  top:1041, pad:13},
  {label:'grip', cmd:gripCmd, ach:gripAch, ticks:gripTicks, min:-0.05,  max:1.05,  top:1206, pad:22}
];

const bad = panels.filter(p => p.cmd.length !== 239 || p.ach.length !== 239).map(p => p.label + ':' + p.cmd.length + '/' + p.ach.length);
if (bad.length) document.getElementById('warn').textContent = 'LEN ' + bad.join(' ');

Chart.defaults.font.family = "'DejaVu Sans', sans-serif";
Chart.defaults.color = '#000';

const fmt = v => v.toFixed(1).replace('-', '\u2212');

const chunkPlugin = {
  id: 'chunkLines',
  beforeDatasetsDraw(chart) {
    const {ctx, chartArea: a, scales: {x}} = chart;
    ctx.save();
    ctx.strokeStyle = 'rgba(0,0,0,0.12)';
    ctx.lineWidth = 1;
    chunkStarts.forEach(v => {
      const px = Math.round(x.getPixelForValue(v)) + 0.5;
      ctx.beginPath(); ctx.moveTo(px, a.top); ctx.lineTo(px, a.bottom); ctx.stroke();
    });
    ctx.restore();
  }
};
const framePlugin = {
  id: 'frame',
  afterDraw(chart) {
    const {ctx, chartArea: a} = chart;
    ctx.save();
    ctx.strokeStyle = '#000';
    ctx.lineWidth = 1.1;
    ctx.strokeRect(a.left, a.top, a.right - a.left, a.bottom - a.top);
    ctx.restore();
  }
};

panels.forEach((p, i) => {
  const isLast = i === panels.length - 1;
  const padTop = 12;
  const bottomH = isLast ? (1408 - (p.top - padTop) - padTop - PANEL_H) : 10;
  const H = padTop + PANEL_H + bottomH;
  const cv = document.createElement('canvas');
  cv.width = 1210; cv.height = H;
  cv.style.cssText = 'position:absolute;left:0;top:' + (p.top - padTop) + 'px;width:1210px;height:' + H + 'px;';
  document.body.appendChild(cv);
  new Chart(cv, {
    type: 'line',
    data: {
      datasets: [
        {label:'commanded', data: p.cmd.map((v, k) => ({x:k, y:v})), borderColor:'#1f77b4', borderWidth:1.9, pointRadius:0, tension:0, fill:false, borderJoinStyle:'round'},
        {label:'achieved', data: p.ach.map((v, k) => ({x:k, y:v})), borderColor:'#ff7f0e', borderWidth:1.9, borderDash:[7.5, 3.3], pointRadius:0, tension:0, fill:false}
      ]
    },
    options: {
      responsive: false, animation: false, devicePixelRatio: 1, events: [],
      layout: {padding: {top: padTop, right: 16, left: 0, bottom: 0}},
      plugins: {legend: {display: false}, tooltip: {enabled: false}, title: {display: false}},
      scales: {
        x: {
          type: 'linear', min: -11.9, max: 249.9,
          afterBuildTicks: s => { s.ticks = xTicks.map(v => ({value: v})); },
          afterFit: s => { s.height = bottomH; },
          grid: {drawOnChartArea: false, drawTicks: true, tickLength: 5, tickWidth: 1.1, tickColor: '#000', color: '#000'},
          border: {display: true, color: '#000', width: 1},
          ticks: {display: isLast, font: {size: 10}, color: '#000', padding: 4, maxRotation: 0, autoSkip: false,
                  callback: (v) => { const k = xTicks.indexOf(v); return k >= 0 ? xTickLabels[k] : ''; }},
          title: {display: isLast, text: 'sim step (vertical lines = new action chunk)', font: {size: 13.9}, color: '#000', padding: {top: 0, bottom: 16}}
        },
        y: {
          type: 'linear', min: p.min, max: p.max,
          afterBuildTicks: s => { s.ticks = p.ticks.map(v => ({value: v})); },
          afterFit: s => { s.width = 71; },
          grid: {drawOnChartArea: false, drawTicks: true, tickLength: 5, tickWidth: 1.1, tickColor: '#000', color: '#000'},
          border: {display: true, color: '#000', width: 1},
          ticks: {font: {size: 10}, color: '#000', padding: 4, autoSkip: false, callback: v => fmt(v)},
          title: {display: true, text: p.label, font: {size: 11.5}, color: '#000', padding: {top: p.pad, bottom: 0}}
        }
      }
    },
    plugins: [chunkPlugin, framePlugin]
  });
});
</script>
</body>
</html>
